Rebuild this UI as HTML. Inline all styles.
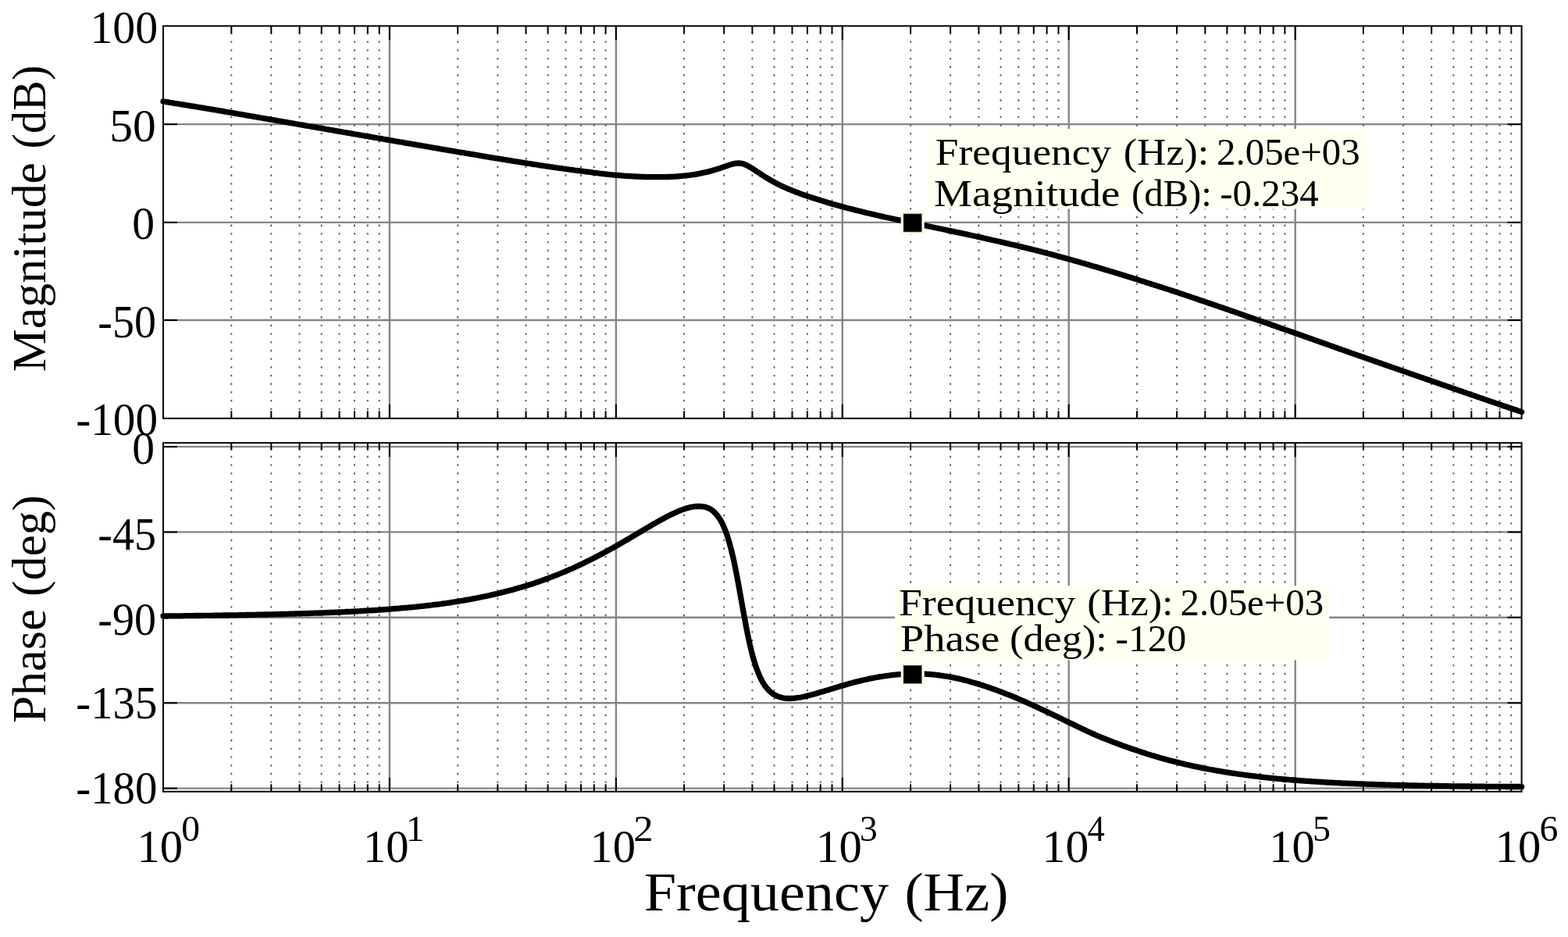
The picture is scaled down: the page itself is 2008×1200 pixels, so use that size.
<!DOCTYPE html>
<html lang="en">
<head>
<meta charset="utf-8">
<title>Bode plot</title>
<style>
html,body{margin:0;padding:0;background:#fff;}
body{width:2008px;height:1200px;overflow:hidden;}
svg{display:block;}
text{font-family:"Liberation Serif", "DejaVu Serif", serif;fill:#000;}
.grid line{stroke:#858585;stroke-width:2.4;}
.minor line{stroke:#585858;stroke-width:1.9;stroke-dasharray:2.3 8.384;}
.ax{stroke:#000;stroke-width:2;fill:none;}
.tk line{stroke:#000;stroke-width:2;}
.curve{stroke:#000;stroke-width:7.3;fill:none;stroke-linecap:round;stroke-linejoin:round;}
.tip{fill:#fffff0;}
.mk{fill:#000;stroke:#8e8e6e;stroke-width:0.6;}
.halo{fill:#fdfde2;}
</style>
</head>
<body>
<svg width="2008" height="1200" viewBox="0 0 2008 1200" role="img" aria-label="Bode plot: magnitude and phase versus frequency">
<rect width="2008" height="1200" fill="#fff"/>

<g id="mag-grid"><g class="grid">
<line x1="498.9" y1="33.3" x2="498.9" y2="535.8"/>
<line x1="788.9" y1="33.3" x2="788.9" y2="535.8"/>
<line x1="1078.8" y1="33.3" x2="1078.8" y2="535.8"/>
<line x1="1368.7" y1="33.3" x2="1368.7" y2="535.8"/>
<line x1="1658.7" y1="33.3" x2="1658.7" y2="535.8"/>
<line x1="209.0" y1="159.1" x2="1948.6" y2="159.1"/>
<line x1="209.0" y1="284.9" x2="1948.6" y2="284.9"/>
<line x1="209.0" y1="410.0" x2="1948.6" y2="410.0"/>
</g>
<g class="minor">
<line x1="296.3" y1="33.3" x2="296.3" y2="535.8" stroke-dashoffset="2.12"/>
<line x1="347.3" y1="33.3" x2="347.3" y2="535.8" stroke-dashoffset="2.12"/>
<line x1="383.6" y1="33.3" x2="383.6" y2="535.8" stroke-dashoffset="2.12"/>
<line x1="411.7" y1="33.3" x2="411.7" y2="535.8" stroke-dashoffset="2.12"/>
<line x1="434.6" y1="33.3" x2="434.6" y2="535.8" stroke-dashoffset="2.12"/>
<line x1="454.0" y1="33.3" x2="454.0" y2="535.8" stroke-dashoffset="2.12"/>
<line x1="470.8" y1="33.3" x2="470.8" y2="535.8" stroke-dashoffset="2.12"/>
<line x1="485.7" y1="33.3" x2="485.7" y2="535.8" stroke-dashoffset="2.12"/>
<line x1="586.2" y1="33.3" x2="586.2" y2="535.8" stroke-dashoffset="2.12"/>
<line x1="637.3" y1="33.3" x2="637.3" y2="535.8" stroke-dashoffset="2.12"/>
<line x1="673.5" y1="33.3" x2="673.5" y2="535.8" stroke-dashoffset="2.12"/>
<line x1="701.6" y1="33.3" x2="701.6" y2="535.8" stroke-dashoffset="2.12"/>
<line x1="724.5" y1="33.3" x2="724.5" y2="535.8" stroke-dashoffset="2.12"/>
<line x1="744.0" y1="33.3" x2="744.0" y2="535.8" stroke-dashoffset="2.12"/>
<line x1="760.8" y1="33.3" x2="760.8" y2="535.8" stroke-dashoffset="2.12"/>
<line x1="775.6" y1="33.3" x2="775.6" y2="535.8" stroke-dashoffset="2.12"/>
<line x1="876.1" y1="33.3" x2="876.1" y2="535.8" stroke-dashoffset="2.12"/>
<line x1="927.2" y1="33.3" x2="927.2" y2="535.8" stroke-dashoffset="2.12"/>
<line x1="963.4" y1="33.3" x2="963.4" y2="535.8" stroke-dashoffset="2.12"/>
<line x1="991.5" y1="33.3" x2="991.5" y2="535.8" stroke-dashoffset="2.12"/>
<line x1="1014.5" y1="33.3" x2="1014.5" y2="535.8" stroke-dashoffset="2.12"/>
<line x1="1033.9" y1="33.3" x2="1033.9" y2="535.8" stroke-dashoffset="2.12"/>
<line x1="1050.7" y1="33.3" x2="1050.7" y2="535.8" stroke-dashoffset="2.12"/>
<line x1="1065.5" y1="33.3" x2="1065.5" y2="535.8" stroke-dashoffset="2.12"/>
<line x1="1166.1" y1="33.3" x2="1166.1" y2="535.8" stroke-dashoffset="2.12"/>
<line x1="1217.1" y1="33.3" x2="1217.1" y2="535.8" stroke-dashoffset="2.12"/>
<line x1="1253.4" y1="33.3" x2="1253.4" y2="535.8" stroke-dashoffset="2.12"/>
<line x1="1281.5" y1="33.3" x2="1281.5" y2="535.8" stroke-dashoffset="2.12"/>
<line x1="1304.4" y1="33.3" x2="1304.4" y2="535.8" stroke-dashoffset="2.12"/>
<line x1="1323.8" y1="33.3" x2="1323.8" y2="535.8" stroke-dashoffset="2.12"/>
<line x1="1340.6" y1="33.3" x2="1340.6" y2="535.8" stroke-dashoffset="2.12"/>
<line x1="1355.5" y1="33.3" x2="1355.5" y2="535.8" stroke-dashoffset="2.12"/>
<line x1="1456.0" y1="33.3" x2="1456.0" y2="535.8" stroke-dashoffset="2.12"/>
<line x1="1507.1" y1="33.3" x2="1507.1" y2="535.8" stroke-dashoffset="2.12"/>
<line x1="1543.3" y1="33.3" x2="1543.3" y2="535.8" stroke-dashoffset="2.12"/>
<line x1="1571.4" y1="33.3" x2="1571.4" y2="535.8" stroke-dashoffset="2.12"/>
<line x1="1594.3" y1="33.3" x2="1594.3" y2="535.8" stroke-dashoffset="2.12"/>
<line x1="1613.8" y1="33.3" x2="1613.8" y2="535.8" stroke-dashoffset="2.12"/>
<line x1="1630.6" y1="33.3" x2="1630.6" y2="535.8" stroke-dashoffset="2.12"/>
<line x1="1645.4" y1="33.3" x2="1645.4" y2="535.8" stroke-dashoffset="2.12"/>
<line x1="1745.9" y1="33.3" x2="1745.9" y2="535.8" stroke-dashoffset="2.12"/>
<line x1="1797.0" y1="33.3" x2="1797.0" y2="535.8" stroke-dashoffset="2.12"/>
<line x1="1833.2" y1="33.3" x2="1833.2" y2="535.8" stroke-dashoffset="2.12"/>
<line x1="1861.3" y1="33.3" x2="1861.3" y2="535.8" stroke-dashoffset="2.12"/>
<line x1="1884.3" y1="33.3" x2="1884.3" y2="535.8" stroke-dashoffset="2.12"/>
<line x1="1903.7" y1="33.3" x2="1903.7" y2="535.8" stroke-dashoffset="2.12"/>
<line x1="1920.5" y1="33.3" x2="1920.5" y2="535.8" stroke-dashoffset="2.12"/>
<line x1="1935.3" y1="33.3" x2="1935.3" y2="535.8" stroke-dashoffset="2.12"/>
</g></g>
<g id="phase-grid"><g class="grid">
<line x1="498.9" y1="567.2" x2="498.9" y2="1013.8"/>
<line x1="788.9" y1="567.2" x2="788.9" y2="1013.8"/>
<line x1="1078.8" y1="567.2" x2="1078.8" y2="1013.8"/>
<line x1="1368.7" y1="567.2" x2="1368.7" y2="1013.8"/>
<line x1="1658.7" y1="567.2" x2="1658.7" y2="1013.8"/>
<line x1="209.0" y1="572.1" x2="1948.6" y2="572.1"/>
<line x1="209.0" y1="681.4" x2="1948.6" y2="681.4"/>
<line x1="209.0" y1="790.8" x2="1948.6" y2="790.8"/>
<line x1="209.0" y1="900.2" x2="1948.6" y2="900.2"/>
<line x1="209.0" y1="1009.6" x2="1948.6" y2="1009.6"/>
</g>
<g class="minor">
<line x1="296.3" y1="567.2" x2="296.3" y2="1013.8" stroke-dashoffset="4.72"/>
<line x1="347.3" y1="567.2" x2="347.3" y2="1013.8" stroke-dashoffset="4.72"/>
<line x1="383.6" y1="567.2" x2="383.6" y2="1013.8" stroke-dashoffset="4.72"/>
<line x1="411.7" y1="567.2" x2="411.7" y2="1013.8" stroke-dashoffset="4.72"/>
<line x1="434.6" y1="567.2" x2="434.6" y2="1013.8" stroke-dashoffset="4.72"/>
<line x1="454.0" y1="567.2" x2="454.0" y2="1013.8" stroke-dashoffset="4.72"/>
<line x1="470.8" y1="567.2" x2="470.8" y2="1013.8" stroke-dashoffset="4.72"/>
<line x1="485.7" y1="567.2" x2="485.7" y2="1013.8" stroke-dashoffset="4.72"/>
<line x1="586.2" y1="567.2" x2="586.2" y2="1013.8" stroke-dashoffset="4.72"/>
<line x1="637.3" y1="567.2" x2="637.3" y2="1013.8" stroke-dashoffset="4.72"/>
<line x1="673.5" y1="567.2" x2="673.5" y2="1013.8" stroke-dashoffset="4.72"/>
<line x1="701.6" y1="567.2" x2="701.6" y2="1013.8" stroke-dashoffset="4.72"/>
<line x1="724.5" y1="567.2" x2="724.5" y2="1013.8" stroke-dashoffset="4.72"/>
<line x1="744.0" y1="567.2" x2="744.0" y2="1013.8" stroke-dashoffset="4.72"/>
<line x1="760.8" y1="567.2" x2="760.8" y2="1013.8" stroke-dashoffset="4.72"/>
<line x1="775.6" y1="567.2" x2="775.6" y2="1013.8" stroke-dashoffset="4.72"/>
<line x1="876.1" y1="567.2" x2="876.1" y2="1013.8" stroke-dashoffset="4.72"/>
<line x1="927.2" y1="567.2" x2="927.2" y2="1013.8" stroke-dashoffset="4.72"/>
<line x1="963.4" y1="567.2" x2="963.4" y2="1013.8" stroke-dashoffset="4.72"/>
<line x1="991.5" y1="567.2" x2="991.5" y2="1013.8" stroke-dashoffset="4.72"/>
<line x1="1014.5" y1="567.2" x2="1014.5" y2="1013.8" stroke-dashoffset="4.72"/>
<line x1="1033.9" y1="567.2" x2="1033.9" y2="1013.8" stroke-dashoffset="4.72"/>
<line x1="1050.7" y1="567.2" x2="1050.7" y2="1013.8" stroke-dashoffset="4.72"/>
<line x1="1065.5" y1="567.2" x2="1065.5" y2="1013.8" stroke-dashoffset="4.72"/>
<line x1="1166.1" y1="567.2" x2="1166.1" y2="1013.8" stroke-dashoffset="4.72"/>
<line x1="1217.1" y1="567.2" x2="1217.1" y2="1013.8" stroke-dashoffset="4.72"/>
<line x1="1253.4" y1="567.2" x2="1253.4" y2="1013.8" stroke-dashoffset="4.72"/>
<line x1="1281.5" y1="567.2" x2="1281.5" y2="1013.8" stroke-dashoffset="4.72"/>
<line x1="1304.4" y1="567.2" x2="1304.4" y2="1013.8" stroke-dashoffset="4.72"/>
<line x1="1323.8" y1="567.2" x2="1323.8" y2="1013.8" stroke-dashoffset="4.72"/>
<line x1="1340.6" y1="567.2" x2="1340.6" y2="1013.8" stroke-dashoffset="4.72"/>
<line x1="1355.5" y1="567.2" x2="1355.5" y2="1013.8" stroke-dashoffset="4.72"/>
<line x1="1456.0" y1="567.2" x2="1456.0" y2="1013.8" stroke-dashoffset="4.72"/>
<line x1="1507.1" y1="567.2" x2="1507.1" y2="1013.8" stroke-dashoffset="4.72"/>
<line x1="1543.3" y1="567.2" x2="1543.3" y2="1013.8" stroke-dashoffset="4.72"/>
<line x1="1571.4" y1="567.2" x2="1571.4" y2="1013.8" stroke-dashoffset="4.72"/>
<line x1="1594.3" y1="567.2" x2="1594.3" y2="1013.8" stroke-dashoffset="4.72"/>
<line x1="1613.8" y1="567.2" x2="1613.8" y2="1013.8" stroke-dashoffset="4.72"/>
<line x1="1630.6" y1="567.2" x2="1630.6" y2="1013.8" stroke-dashoffset="4.72"/>
<line x1="1645.4" y1="567.2" x2="1645.4" y2="1013.8" stroke-dashoffset="4.72"/>
<line x1="1745.9" y1="567.2" x2="1745.9" y2="1013.8" stroke-dashoffset="4.72"/>
<line x1="1797.0" y1="567.2" x2="1797.0" y2="1013.8" stroke-dashoffset="4.72"/>
<line x1="1833.2" y1="567.2" x2="1833.2" y2="1013.8" stroke-dashoffset="4.72"/>
<line x1="1861.3" y1="567.2" x2="1861.3" y2="1013.8" stroke-dashoffset="4.72"/>
<line x1="1884.3" y1="567.2" x2="1884.3" y2="1013.8" stroke-dashoffset="4.72"/>
<line x1="1903.7" y1="567.2" x2="1903.7" y2="1013.8" stroke-dashoffset="4.72"/>
<line x1="1920.5" y1="567.2" x2="1920.5" y2="1013.8" stroke-dashoffset="4.72"/>
<line x1="1935.3" y1="567.2" x2="1935.3" y2="1013.8" stroke-dashoffset="4.72"/>
</g></g>
<rect class="tip" x="1187.3" y="165" width="564.5" height="102.6"/>
<rect class="tip" x="1145.9" y="750.0" width="556.4" height="95.4"/>
<g id="mag-frame"><rect class="ax" x="209.0" y="33.3" width="1739.6" height="502.5"/>
<g class="tk">
<line x1="296.3" y1="33.3" x2="296.3" y2="42.8"/>
<line x1="296.3" y1="535.8" x2="296.3" y2="526.3"/>
<line x1="347.3" y1="33.3" x2="347.3" y2="42.8"/>
<line x1="347.3" y1="535.8" x2="347.3" y2="526.3"/>
<line x1="383.6" y1="33.3" x2="383.6" y2="42.8"/>
<line x1="383.6" y1="535.8" x2="383.6" y2="526.3"/>
<line x1="411.7" y1="33.3" x2="411.7" y2="42.8"/>
<line x1="411.7" y1="535.8" x2="411.7" y2="526.3"/>
<line x1="434.6" y1="33.3" x2="434.6" y2="42.8"/>
<line x1="434.6" y1="535.8" x2="434.6" y2="526.3"/>
<line x1="454.0" y1="33.3" x2="454.0" y2="42.8"/>
<line x1="454.0" y1="535.8" x2="454.0" y2="526.3"/>
<line x1="470.8" y1="33.3" x2="470.8" y2="42.8"/>
<line x1="470.8" y1="535.8" x2="470.8" y2="526.3"/>
<line x1="485.7" y1="33.3" x2="485.7" y2="42.8"/>
<line x1="485.7" y1="535.8" x2="485.7" y2="526.3"/>
<line x1="498.9" y1="33.3" x2="498.9" y2="51.3"/>
<line x1="498.9" y1="535.8" x2="498.9" y2="517.8"/>
<line x1="586.2" y1="33.3" x2="586.2" y2="42.8"/>
<line x1="586.2" y1="535.8" x2="586.2" y2="526.3"/>
<line x1="637.3" y1="33.3" x2="637.3" y2="42.8"/>
<line x1="637.3" y1="535.8" x2="637.3" y2="526.3"/>
<line x1="673.5" y1="33.3" x2="673.5" y2="42.8"/>
<line x1="673.5" y1="535.8" x2="673.5" y2="526.3"/>
<line x1="701.6" y1="33.3" x2="701.6" y2="42.8"/>
<line x1="701.6" y1="535.8" x2="701.6" y2="526.3"/>
<line x1="724.5" y1="33.3" x2="724.5" y2="42.8"/>
<line x1="724.5" y1="535.8" x2="724.5" y2="526.3"/>
<line x1="744.0" y1="33.3" x2="744.0" y2="42.8"/>
<line x1="744.0" y1="535.8" x2="744.0" y2="526.3"/>
<line x1="760.8" y1="33.3" x2="760.8" y2="42.8"/>
<line x1="760.8" y1="535.8" x2="760.8" y2="526.3"/>
<line x1="775.6" y1="33.3" x2="775.6" y2="42.8"/>
<line x1="775.6" y1="535.8" x2="775.6" y2="526.3"/>
<line x1="788.9" y1="33.3" x2="788.9" y2="51.3"/>
<line x1="788.9" y1="535.8" x2="788.9" y2="517.8"/>
<line x1="876.1" y1="33.3" x2="876.1" y2="42.8"/>
<line x1="876.1" y1="535.8" x2="876.1" y2="526.3"/>
<line x1="927.2" y1="33.3" x2="927.2" y2="42.8"/>
<line x1="927.2" y1="535.8" x2="927.2" y2="526.3"/>
<line x1="963.4" y1="33.3" x2="963.4" y2="42.8"/>
<line x1="963.4" y1="535.8" x2="963.4" y2="526.3"/>
<line x1="991.5" y1="33.3" x2="991.5" y2="42.8"/>
<line x1="991.5" y1="535.8" x2="991.5" y2="526.3"/>
<line x1="1014.5" y1="33.3" x2="1014.5" y2="42.8"/>
<line x1="1014.5" y1="535.8" x2="1014.5" y2="526.3"/>
<line x1="1033.9" y1="33.3" x2="1033.9" y2="42.8"/>
<line x1="1033.9" y1="535.8" x2="1033.9" y2="526.3"/>
<line x1="1050.7" y1="33.3" x2="1050.7" y2="42.8"/>
<line x1="1050.7" y1="535.8" x2="1050.7" y2="526.3"/>
<line x1="1065.5" y1="33.3" x2="1065.5" y2="42.8"/>
<line x1="1065.5" y1="535.8" x2="1065.5" y2="526.3"/>
<line x1="1078.8" y1="33.3" x2="1078.8" y2="51.3"/>
<line x1="1078.8" y1="535.8" x2="1078.8" y2="517.8"/>
<line x1="1166.1" y1="33.3" x2="1166.1" y2="42.8"/>
<line x1="1166.1" y1="535.8" x2="1166.1" y2="526.3"/>
<line x1="1217.1" y1="33.3" x2="1217.1" y2="42.8"/>
<line x1="1217.1" y1="535.8" x2="1217.1" y2="526.3"/>
<line x1="1253.4" y1="33.3" x2="1253.4" y2="42.8"/>
<line x1="1253.4" y1="535.8" x2="1253.4" y2="526.3"/>
<line x1="1281.5" y1="33.3" x2="1281.5" y2="42.8"/>
<line x1="1281.5" y1="535.8" x2="1281.5" y2="526.3"/>
<line x1="1304.4" y1="33.3" x2="1304.4" y2="42.8"/>
<line x1="1304.4" y1="535.8" x2="1304.4" y2="526.3"/>
<line x1="1323.8" y1="33.3" x2="1323.8" y2="42.8"/>
<line x1="1323.8" y1="535.8" x2="1323.8" y2="526.3"/>
<line x1="1340.6" y1="33.3" x2="1340.6" y2="42.8"/>
<line x1="1340.6" y1="535.8" x2="1340.6" y2="526.3"/>
<line x1="1355.5" y1="33.3" x2="1355.5" y2="42.8"/>
<line x1="1355.5" y1="535.8" x2="1355.5" y2="526.3"/>
<line x1="1368.7" y1="33.3" x2="1368.7" y2="51.3"/>
<line x1="1368.7" y1="535.8" x2="1368.7" y2="517.8"/>
<line x1="1456.0" y1="33.3" x2="1456.0" y2="42.8"/>
<line x1="1456.0" y1="535.8" x2="1456.0" y2="526.3"/>
<line x1="1507.1" y1="33.3" x2="1507.1" y2="42.8"/>
<line x1="1507.1" y1="535.8" x2="1507.1" y2="526.3"/>
<line x1="1543.3" y1="33.3" x2="1543.3" y2="42.8"/>
<line x1="1543.3" y1="535.8" x2="1543.3" y2="526.3"/>
<line x1="1571.4" y1="33.3" x2="1571.4" y2="42.8"/>
<line x1="1571.4" y1="535.8" x2="1571.4" y2="526.3"/>
<line x1="1594.3" y1="33.3" x2="1594.3" y2="42.8"/>
<line x1="1594.3" y1="535.8" x2="1594.3" y2="526.3"/>
<line x1="1613.8" y1="33.3" x2="1613.8" y2="42.8"/>
<line x1="1613.8" y1="535.8" x2="1613.8" y2="526.3"/>
<line x1="1630.6" y1="33.3" x2="1630.6" y2="42.8"/>
<line x1="1630.6" y1="535.8" x2="1630.6" y2="526.3"/>
<line x1="1645.4" y1="33.3" x2="1645.4" y2="42.8"/>
<line x1="1645.4" y1="535.8" x2="1645.4" y2="526.3"/>
<line x1="1658.7" y1="33.3" x2="1658.7" y2="51.3"/>
<line x1="1658.7" y1="535.8" x2="1658.7" y2="517.8"/>
<line x1="1745.9" y1="33.3" x2="1745.9" y2="42.8"/>
<line x1="1745.9" y1="535.8" x2="1745.9" y2="526.3"/>
<line x1="1797.0" y1="33.3" x2="1797.0" y2="42.8"/>
<line x1="1797.0" y1="535.8" x2="1797.0" y2="526.3"/>
<line x1="1833.2" y1="33.3" x2="1833.2" y2="42.8"/>
<line x1="1833.2" y1="535.8" x2="1833.2" y2="526.3"/>
<line x1="1861.3" y1="33.3" x2="1861.3" y2="42.8"/>
<line x1="1861.3" y1="535.8" x2="1861.3" y2="526.3"/>
<line x1="1884.3" y1="33.3" x2="1884.3" y2="42.8"/>
<line x1="1884.3" y1="535.8" x2="1884.3" y2="526.3"/>
<line x1="1903.7" y1="33.3" x2="1903.7" y2="42.8"/>
<line x1="1903.7" y1="535.8" x2="1903.7" y2="526.3"/>
<line x1="1920.5" y1="33.3" x2="1920.5" y2="42.8"/>
<line x1="1920.5" y1="535.8" x2="1920.5" y2="526.3"/>
<line x1="1935.3" y1="33.3" x2="1935.3" y2="42.8"/>
<line x1="1935.3" y1="535.8" x2="1935.3" y2="526.3"/>
<line x1="209.0" y1="159.1" x2="227.0" y2="159.1"/>
<line x1="1948.6" y1="159.1" x2="1930.6" y2="159.1"/>
<line x1="209.0" y1="284.9" x2="227.0" y2="284.9"/>
<line x1="1948.6" y1="284.9" x2="1930.6" y2="284.9"/>
<line x1="209.0" y1="410.0" x2="227.0" y2="410.0"/>
<line x1="1948.6" y1="410.0" x2="1930.6" y2="410.0"/>
</g></g>
<g id="phase-frame"><rect class="ax" x="209.0" y="567.2" width="1739.6" height="446.6"/>
<g class="tk">
<line x1="296.3" y1="567.2" x2="296.3" y2="576.7"/>
<line x1="296.3" y1="1013.8" x2="296.3" y2="1004.3"/>
<line x1="347.3" y1="567.2" x2="347.3" y2="576.7"/>
<line x1="347.3" y1="1013.8" x2="347.3" y2="1004.3"/>
<line x1="383.6" y1="567.2" x2="383.6" y2="576.7"/>
<line x1="383.6" y1="1013.8" x2="383.6" y2="1004.3"/>
<line x1="411.7" y1="567.2" x2="411.7" y2="576.7"/>
<line x1="411.7" y1="1013.8" x2="411.7" y2="1004.3"/>
<line x1="434.6" y1="567.2" x2="434.6" y2="576.7"/>
<line x1="434.6" y1="1013.8" x2="434.6" y2="1004.3"/>
<line x1="454.0" y1="567.2" x2="454.0" y2="576.7"/>
<line x1="454.0" y1="1013.8" x2="454.0" y2="1004.3"/>
<line x1="470.8" y1="567.2" x2="470.8" y2="576.7"/>
<line x1="470.8" y1="1013.8" x2="470.8" y2="1004.3"/>
<line x1="485.7" y1="567.2" x2="485.7" y2="576.7"/>
<line x1="485.7" y1="1013.8" x2="485.7" y2="1004.3"/>
<line x1="498.9" y1="567.2" x2="498.9" y2="585.2"/>
<line x1="498.9" y1="1013.8" x2="498.9" y2="995.8"/>
<line x1="586.2" y1="567.2" x2="586.2" y2="576.7"/>
<line x1="586.2" y1="1013.8" x2="586.2" y2="1004.3"/>
<line x1="637.3" y1="567.2" x2="637.3" y2="576.7"/>
<line x1="637.3" y1="1013.8" x2="637.3" y2="1004.3"/>
<line x1="673.5" y1="567.2" x2="673.5" y2="576.7"/>
<line x1="673.5" y1="1013.8" x2="673.5" y2="1004.3"/>
<line x1="701.6" y1="567.2" x2="701.6" y2="576.7"/>
<line x1="701.6" y1="1013.8" x2="701.6" y2="1004.3"/>
<line x1="724.5" y1="567.2" x2="724.5" y2="576.7"/>
<line x1="724.5" y1="1013.8" x2="724.5" y2="1004.3"/>
<line x1="744.0" y1="567.2" x2="744.0" y2="576.7"/>
<line x1="744.0" y1="1013.8" x2="744.0" y2="1004.3"/>
<line x1="760.8" y1="567.2" x2="760.8" y2="576.7"/>
<line x1="760.8" y1="1013.8" x2="760.8" y2="1004.3"/>
<line x1="775.6" y1="567.2" x2="775.6" y2="576.7"/>
<line x1="775.6" y1="1013.8" x2="775.6" y2="1004.3"/>
<line x1="788.9" y1="567.2" x2="788.9" y2="585.2"/>
<line x1="788.9" y1="1013.8" x2="788.9" y2="995.8"/>
<line x1="876.1" y1="567.2" x2="876.1" y2="576.7"/>
<line x1="876.1" y1="1013.8" x2="876.1" y2="1004.3"/>
<line x1="927.2" y1="567.2" x2="927.2" y2="576.7"/>
<line x1="927.2" y1="1013.8" x2="927.2" y2="1004.3"/>
<line x1="963.4" y1="567.2" x2="963.4" y2="576.7"/>
<line x1="963.4" y1="1013.8" x2="963.4" y2="1004.3"/>
<line x1="991.5" y1="567.2" x2="991.5" y2="576.7"/>
<line x1="991.5" y1="1013.8" x2="991.5" y2="1004.3"/>
<line x1="1014.5" y1="567.2" x2="1014.5" y2="576.7"/>
<line x1="1014.5" y1="1013.8" x2="1014.5" y2="1004.3"/>
<line x1="1033.9" y1="567.2" x2="1033.9" y2="576.7"/>
<line x1="1033.9" y1="1013.8" x2="1033.9" y2="1004.3"/>
<line x1="1050.7" y1="567.2" x2="1050.7" y2="576.7"/>
<line x1="1050.7" y1="1013.8" x2="1050.7" y2="1004.3"/>
<line x1="1065.5" y1="567.2" x2="1065.5" y2="576.7"/>
<line x1="1065.5" y1="1013.8" x2="1065.5" y2="1004.3"/>
<line x1="1078.8" y1="567.2" x2="1078.8" y2="585.2"/>
<line x1="1078.8" y1="1013.8" x2="1078.8" y2="995.8"/>
<line x1="1166.1" y1="567.2" x2="1166.1" y2="576.7"/>
<line x1="1166.1" y1="1013.8" x2="1166.1" y2="1004.3"/>
<line x1="1217.1" y1="567.2" x2="1217.1" y2="576.7"/>
<line x1="1217.1" y1="1013.8" x2="1217.1" y2="1004.3"/>
<line x1="1253.4" y1="567.2" x2="1253.4" y2="576.7"/>
<line x1="1253.4" y1="1013.8" x2="1253.4" y2="1004.3"/>
<line x1="1281.5" y1="567.2" x2="1281.5" y2="576.7"/>
<line x1="1281.5" y1="1013.8" x2="1281.5" y2="1004.3"/>
<line x1="1304.4" y1="567.2" x2="1304.4" y2="576.7"/>
<line x1="1304.4" y1="1013.8" x2="1304.4" y2="1004.3"/>
<line x1="1323.8" y1="567.2" x2="1323.8" y2="576.7"/>
<line x1="1323.8" y1="1013.8" x2="1323.8" y2="1004.3"/>
<line x1="1340.6" y1="567.2" x2="1340.6" y2="576.7"/>
<line x1="1340.6" y1="1013.8" x2="1340.6" y2="1004.3"/>
<line x1="1355.5" y1="567.2" x2="1355.5" y2="576.7"/>
<line x1="1355.5" y1="1013.8" x2="1355.5" y2="1004.3"/>
<line x1="1368.7" y1="567.2" x2="1368.7" y2="585.2"/>
<line x1="1368.7" y1="1013.8" x2="1368.7" y2="995.8"/>
<line x1="1456.0" y1="567.2" x2="1456.0" y2="576.7"/>
<line x1="1456.0" y1="1013.8" x2="1456.0" y2="1004.3"/>
<line x1="1507.1" y1="567.2" x2="1507.1" y2="576.7"/>
<line x1="1507.1" y1="1013.8" x2="1507.1" y2="1004.3"/>
<line x1="1543.3" y1="567.2" x2="1543.3" y2="576.7"/>
<line x1="1543.3" y1="1013.8" x2="1543.3" y2="1004.3"/>
<line x1="1571.4" y1="567.2" x2="1571.4" y2="576.7"/>
<line x1="1571.4" y1="1013.8" x2="1571.4" y2="1004.3"/>
<line x1="1594.3" y1="567.2" x2="1594.3" y2="576.7"/>
<line x1="1594.3" y1="1013.8" x2="1594.3" y2="1004.3"/>
<line x1="1613.8" y1="567.2" x2="1613.8" y2="576.7"/>
<line x1="1613.8" y1="1013.8" x2="1613.8" y2="1004.3"/>
<line x1="1630.6" y1="567.2" x2="1630.6" y2="576.7"/>
<line x1="1630.6" y1="1013.8" x2="1630.6" y2="1004.3"/>
<line x1="1645.4" y1="567.2" x2="1645.4" y2="576.7"/>
<line x1="1645.4" y1="1013.8" x2="1645.4" y2="1004.3"/>
<line x1="1658.7" y1="567.2" x2="1658.7" y2="585.2"/>
<line x1="1658.7" y1="1013.8" x2="1658.7" y2="995.8"/>
<line x1="1745.9" y1="567.2" x2="1745.9" y2="576.7"/>
<line x1="1745.9" y1="1013.8" x2="1745.9" y2="1004.3"/>
<line x1="1797.0" y1="567.2" x2="1797.0" y2="576.7"/>
<line x1="1797.0" y1="1013.8" x2="1797.0" y2="1004.3"/>
<line x1="1833.2" y1="567.2" x2="1833.2" y2="576.7"/>
<line x1="1833.2" y1="1013.8" x2="1833.2" y2="1004.3"/>
<line x1="1861.3" y1="567.2" x2="1861.3" y2="576.7"/>
<line x1="1861.3" y1="1013.8" x2="1861.3" y2="1004.3"/>
<line x1="1884.3" y1="567.2" x2="1884.3" y2="576.7"/>
<line x1="1884.3" y1="1013.8" x2="1884.3" y2="1004.3"/>
<line x1="1903.7" y1="567.2" x2="1903.7" y2="576.7"/>
<line x1="1903.7" y1="1013.8" x2="1903.7" y2="1004.3"/>
<line x1="1920.5" y1="567.2" x2="1920.5" y2="576.7"/>
<line x1="1920.5" y1="1013.8" x2="1920.5" y2="1004.3"/>
<line x1="1935.3" y1="567.2" x2="1935.3" y2="576.7"/>
<line x1="1935.3" y1="1013.8" x2="1935.3" y2="1004.3"/>
<line x1="209.0" y1="572.1" x2="227.0" y2="572.1"/>
<line x1="1948.6" y1="572.1" x2="1930.6" y2="572.1"/>
<line x1="209.0" y1="681.4" x2="227.0" y2="681.4"/>
<line x1="1948.6" y1="681.4" x2="1930.6" y2="681.4"/>
<line x1="209.0" y1="790.8" x2="227.0" y2="790.8"/>
<line x1="1948.6" y1="790.8" x2="1930.6" y2="790.8"/>
<line x1="209.0" y1="900.2" x2="227.0" y2="900.2"/>
<line x1="1948.6" y1="900.2" x2="1930.6" y2="900.2"/>
<line x1="209.0" y1="1009.6" x2="227.0" y2="1009.6"/>
<line x1="1948.6" y1="1009.6" x2="1930.6" y2="1009.6"/>
</g></g>
<path class="curve" d="M209.0 129.9 L211.4 130.3 L213.8 130.7 L216.2 131.1 L218.7 131.5 L221.1 131.9 L223.5 132.3 L225.9 132.6 L228.3 133.0 L230.7 133.4 L233.2 133.8 L235.6 134.2 L238.0 134.6 L240.4 135.0 L242.8 135.4 L245.2 135.8 L247.7 136.2 L250.1 136.6 L252.5 137.0 L254.9 137.4 L257.3 137.8 L259.7 138.2 L262.2 138.6 L264.6 139.0 L267.0 139.4 L269.4 139.8 L271.8 140.2 L274.2 140.6 L276.7 141.0 L279.1 141.4 L281.5 141.8 L283.9 142.2 L286.3 142.6 L288.7 143.1 L291.1 143.5 L293.6 143.9 L296.0 144.3 L298.4 144.7 L300.8 145.1 L303.2 145.6 L305.6 146.0 L308.1 146.4 L310.5 146.8 L312.9 147.2 L315.3 147.7 L317.7 148.1 L320.1 148.5 L322.6 148.9 L325.0 149.3 L327.4 149.7 L329.8 150.2 L332.2 150.6 L334.6 151.0 L337.1 151.4 L339.5 151.8 L341.9 152.3 L344.3 152.7 L346.7 153.1 L349.1 153.5 L351.6 153.9 L354.0 154.3 L356.4 154.8 L358.8 155.2 L361.2 155.6 L363.6 156.0 L366.0 156.4 L368.5 156.9 L370.9 157.3 L373.3 157.7 L375.7 158.1 L378.1 158.5 L380.5 159.0 L383.0 159.4 L385.4 159.8 L387.8 160.2 L390.2 160.6 L392.6 161.1 L395.0 161.5 L397.5 161.9 L399.9 162.3 L402.3 162.7 L404.7 163.2 L407.1 163.6 L409.5 164.0 L412.0 164.4 L414.4 164.8 L416.8 165.3 L419.2 165.7 L421.6 166.1 L424.0 166.5 L426.4 166.9 L428.9 167.4 L431.3 167.8 L433.7 168.2 L436.1 168.6 L438.5 169.0 L440.9 169.5 L443.4 169.9 L445.8 170.3 L448.2 170.7 L450.6 171.1 L453.0 171.6 L455.4 172.0 L457.9 172.4 L460.3 172.8 L462.7 173.2 L465.1 173.7 L467.5 174.1 L469.9 174.5 L472.4 174.9 L474.8 175.3 L477.2 175.7 L479.6 176.2 L482.0 176.6 L484.4 177.0 L486.9 177.4 L489.3 177.8 L491.7 178.3 L494.1 178.7 L496.5 179.1 L498.9 179.5 L501.3 179.9 L503.8 180.3 L506.2 180.8 L508.6 181.2 L511.0 181.6 L513.4 182.0 L515.8 182.4 L518.3 182.9 L520.7 183.3 L523.1 183.7 L525.5 184.1 L527.9 184.5 L530.3 184.9 L532.8 185.4 L535.2 185.8 L537.6 186.2 L540.0 186.6 L542.4 187.0 L544.8 187.4 L547.3 187.8 L549.7 188.3 L552.1 188.7 L554.5 189.1 L556.9 189.5 L559.3 189.9 L561.8 190.3 L564.2 190.8 L566.6 191.2 L569.0 191.6 L571.4 192.0 L573.8 192.4 L576.2 192.8 L578.7 193.2 L581.1 193.6 L583.5 194.0 L585.9 194.5 L588.3 194.9 L590.7 195.3 L593.2 195.7 L595.6 196.1 L598.0 196.5 L600.4 196.9 L602.8 197.3 L605.2 197.7 L607.7 198.1 L610.1 198.5 L612.5 198.9 L614.9 199.3 L617.3 199.8 L619.7 200.2 L622.2 200.6 L624.6 201.0 L627.0 201.4 L629.4 201.8 L631.8 202.2 L634.2 202.6 L636.7 202.9 L639.1 203.3 L641.5 203.7 L643.9 204.1 L646.3 204.5 L648.7 204.9 L651.1 205.3 L653.6 205.7 L656.0 206.1 L658.4 206.5 L660.8 206.9 L663.2 207.2 L665.6 207.6 L668.1 208.0 L670.5 208.4 L672.9 208.8 L675.3 209.2 L677.7 209.5 L680.1 209.9 L682.6 210.3 L685.0 210.7 L687.4 211.0 L689.8 211.4 L692.2 211.8 L694.6 212.1 L697.1 212.5 L699.5 212.8 L701.9 213.2 L704.3 213.6 L706.7 213.9 L709.1 214.3 L711.6 214.6 L714.0 215.0 L716.4 215.3 L718.8 215.6 L721.2 216.0 L723.6 216.3 L726.0 216.7 L728.5 217.0 L730.9 217.3 L733.3 217.6 L735.7 218.0 L738.1 218.3 L740.5 218.6 L743.0 218.9 L745.4 219.2 L747.8 219.5 L750.2 219.8 L752.6 220.1 L755.0 220.4 L757.5 220.7 L759.9 221.1 L762.3 221.4 L764.7 221.7 L767.1 222.0 L769.5 222.3 L772.0 222.5 L774.4 222.8 L776.8 223.1 L779.2 223.4 L781.6 223.6 L784.0 223.9 L786.5 224.1 L788.9 224.3 L791.3 224.5 L793.7 224.7 L796.1 224.9 L798.5 225.1 L800.9 225.3 L803.4 225.4 L805.8 225.6 L808.2 225.7 L810.6 225.9 L813.0 226.0 L815.4 226.1 L817.9 226.2 L820.3 226.3 L822.7 226.4 L825.1 226.5 L827.5 226.6 L829.9 226.6 L832.4 226.7 L834.8 226.7 L837.2 226.7 L839.6 226.7 L842.0 226.7 L844.4 226.7 L846.9 226.7 L849.3 226.7 L851.7 226.6 L854.1 226.6 L856.5 226.5 L858.9 226.4 L861.4 226.3 L863.8 226.1 L866.2 226.0 L868.6 225.8 L871.0 225.6 L873.4 225.4 L875.8 225.2 L878.3 225.0 L880.7 224.7 L883.1 224.4 L885.5 224.0 L887.9 223.7 L890.3 223.3 L892.8 222.8 L895.2 222.4 L897.6 221.9 L900.0 221.4 L902.4 220.9 L904.8 220.3 L907.3 219.8 L909.7 219.1 L912.1 218.5 L914.5 217.8 L916.9 217.1 L919.3 216.3 L921.8 215.5 L924.2 214.7 L926.6 213.8 L929.0 213.0 L931.4 212.2 L933.8 211.4 L936.2 210.6 L938.7 210.0 L941.1 209.4 L943.5 209.1 L945.9 208.9 L948.3 209.1 L950.7 209.5 L953.2 210.3 L955.6 211.3 L958.0 212.6 L960.4 214.0 L962.8 215.4 L965.2 217.0 L967.7 218.6 L970.1 220.2 L972.5 221.8 L974.9 223.4 L977.3 225.0 L979.7 226.5 L982.2 228.0 L984.6 229.4 L987.0 230.9 L989.4 232.2 L991.8 233.5 L994.2 234.8 L996.7 236.1 L999.1 237.2 L1001.5 238.4 L1003.9 239.5 L1006.3 240.6 L1008.7 241.6 L1011.1 242.7 L1013.6 243.7 L1016.0 244.6 L1018.4 245.6 L1020.8 246.5 L1023.2 247.4 L1025.6 248.3 L1028.1 249.2 L1030.5 250.0 L1032.9 250.8 L1035.3 251.6 L1037.7 252.4 L1040.1 253.2 L1042.6 254.0 L1045.0 254.8 L1047.4 255.5 L1049.8 256.3 L1052.2 257.1 L1054.6 257.8 L1057.1 258.5 L1059.5 259.3 L1061.9 260.0 L1064.3 260.7 L1066.7 261.4 L1069.1 262.1 L1071.6 262.8 L1074.0 263.4 L1076.4 264.1 L1078.8 264.8 L1081.2 265.4 L1083.6 266.0 L1086.0 266.7 L1088.5 267.3 L1090.9 267.9 L1093.3 268.5 L1095.7 269.1 L1098.1 269.7 L1100.5 270.3 L1103.0 270.9 L1105.4 271.5 L1107.8 272.1 L1110.2 272.7 L1112.6 273.2 L1115.0 273.8 L1117.5 274.4 L1119.9 274.9 L1122.3 275.5 L1124.7 276.0 L1127.1 276.6 L1129.5 277.1 L1132.0 277.7 L1134.4 278.2 L1136.8 278.8 L1139.2 279.3 L1141.6 279.8 L1144.0 280.3 L1146.5 280.9 L1148.9 281.4 L1151.3 281.9 L1153.7 282.4 L1156.1 283.0 L1158.5 283.5 L1160.9 284.0 L1163.4 284.5 L1165.8 285.0 L1168.2 285.5 L1170.6 286.0 L1173.0 286.5 L1175.4 287.0 L1177.9 287.5 L1180.3 288.0 L1182.7 288.5 L1185.1 289.0 L1187.5 289.5 L1189.9 290.0 L1192.4 290.5 L1194.8 291.0 L1197.2 291.5 L1199.6 292.0 L1202.0 292.5 L1204.4 293.0 L1206.9 293.5 L1209.3 294.0 L1211.7 294.5 L1214.1 295.1 L1216.5 295.6 L1218.9 296.1 L1221.4 296.6 L1223.8 297.1 L1226.2 297.6 L1228.6 298.1 L1231.0 298.6 L1233.4 299.1 L1235.8 299.7 L1238.3 300.2 L1240.7 300.7 L1243.1 301.2 L1245.5 301.8 L1247.9 302.3 L1250.3 302.8 L1252.8 303.4 L1255.2 303.9 L1257.6 304.4 L1260.0 305.0 L1262.4 305.5 L1264.8 306.1 L1267.3 306.6 L1269.7 307.2 L1272.1 307.7 L1274.5 308.2 L1276.9 308.8 L1279.3 309.3 L1281.8 309.9 L1284.2 310.4 L1286.6 311.0 L1289.0 311.6 L1291.4 312.1 L1293.8 312.7 L1296.2 313.2 L1298.7 313.8 L1301.1 314.4 L1303.5 315.0 L1305.9 315.5 L1308.3 316.1 L1310.7 316.7 L1313.2 317.3 L1315.6 317.9 L1318.0 318.5 L1320.4 319.1 L1322.8 319.7 L1325.2 320.3 L1327.7 320.9 L1330.1 321.5 L1332.5 322.1 L1334.9 322.8 L1337.3 323.4 L1339.7 324.0 L1342.2 324.7 L1344.6 325.3 L1347.0 325.9 L1349.4 326.6 L1351.8 327.2 L1354.2 327.9 L1356.7 328.5 L1359.1 329.2 L1361.5 329.9 L1363.9 330.5 L1366.3 331.2 L1368.7 331.9 L1371.1 332.5 L1373.6 333.2 L1376.0 333.9 L1378.4 334.6 L1380.8 335.3 L1383.2 336.0 L1385.6 336.7 L1388.1 337.3 L1390.5 338.0 L1392.9 338.7 L1395.3 339.5 L1397.7 340.2 L1400.1 340.9 L1402.6 341.6 L1405.0 342.3 L1407.4 343.0 L1409.8 343.7 L1412.2 344.4 L1414.6 345.2 L1417.1 345.9 L1419.5 346.6 L1421.9 347.4 L1424.3 348.1 L1426.7 348.8 L1429.1 349.6 L1431.6 350.3 L1434.0 351.1 L1436.4 351.8 L1438.8 352.5 L1441.2 353.3 L1443.6 354.1 L1446.0 354.8 L1448.5 355.6 L1450.9 356.3 L1453.3 357.1 L1455.7 357.8 L1458.1 358.6 L1460.5 359.4 L1463.0 360.1 L1465.4 360.9 L1467.8 361.7 L1470.2 362.4 L1472.6 363.2 L1475.0 364.0 L1477.5 364.7 L1479.9 365.5 L1482.3 366.3 L1484.7 367.0 L1487.1 367.8 L1489.5 368.6 L1492.0 369.4 L1494.4 370.1 L1496.8 370.9 L1499.2 371.7 L1501.6 372.5 L1504.0 373.3 L1506.5 374.1 L1508.9 374.9 L1511.3 375.7 L1513.7 376.5 L1516.1 377.3 L1518.5 378.1 L1520.9 378.9 L1523.4 379.8 L1525.8 380.6 L1528.2 381.4 L1530.6 382.2 L1533.0 383.0 L1535.4 383.9 L1537.9 384.7 L1540.3 385.5 L1542.7 386.3 L1545.1 387.2 L1547.5 388.0 L1549.9 388.8 L1552.4 389.6 L1554.8 390.5 L1557.2 391.3 L1559.6 392.1 L1562.0 393.0 L1564.4 393.8 L1566.9 394.6 L1569.3 395.5 L1571.7 396.3 L1574.1 397.1 L1576.5 398.0 L1578.9 398.8 L1581.4 399.6 L1583.8 400.5 L1586.2 401.3 L1588.6 402.2 L1591.0 403.0 L1593.4 403.8 L1595.8 404.7 L1598.3 405.5 L1600.7 406.4 L1603.1 407.2 L1605.5 408.0 L1607.9 408.9 L1610.3 409.7 L1612.8 410.6 L1615.2 411.4 L1617.6 412.3 L1620.0 413.1 L1622.4 413.9 L1624.8 414.8 L1627.3 415.6 L1629.7 416.5 L1632.1 417.3 L1634.5 418.2 L1636.9 419.0 L1639.3 419.9 L1641.8 420.7 L1644.2 421.6 L1646.6 422.4 L1649.0 423.3 L1651.4 424.1 L1653.8 424.9 L1656.3 425.8 L1658.7 426.6 L1661.1 427.5 L1663.5 428.3 L1665.9 429.2 L1668.3 430.0 L1670.7 430.9 L1673.2 431.7 L1675.6 432.6 L1678.0 433.5 L1680.4 434.3 L1682.8 435.2 L1685.2 436.0 L1687.7 436.9 L1690.1 437.8 L1692.5 438.6 L1694.9 439.5 L1697.3 440.3 L1699.7 441.2 L1702.2 442.1 L1704.6 442.9 L1707.0 443.8 L1709.4 444.6 L1711.8 445.5 L1714.2 446.4 L1716.7 447.2 L1719.1 448.1 L1721.5 448.9 L1723.9 449.8 L1726.3 450.6 L1728.7 451.5 L1731.2 452.4 L1733.6 453.2 L1736.0 454.1 L1738.4 454.9 L1740.8 455.7 L1743.2 456.6 L1745.6 457.4 L1748.1 458.3 L1750.5 459.1 L1752.9 460.0 L1755.3 460.8 L1757.7 461.6 L1760.1 462.5 L1762.6 463.3 L1765.0 464.2 L1767.4 465.0 L1769.8 465.8 L1772.2 466.7 L1774.6 467.5 L1777.1 468.4 L1779.5 469.2 L1781.9 470.1 L1784.3 470.9 L1786.7 471.7 L1789.1 472.6 L1791.6 473.4 L1794.0 474.3 L1796.4 475.1 L1798.8 475.9 L1801.2 476.8 L1803.6 477.6 L1806.0 478.5 L1808.5 479.3 L1810.9 480.1 L1813.3 481.0 L1815.7 481.8 L1818.1 482.6 L1820.5 483.5 L1823.0 484.3 L1825.4 485.2 L1827.8 486.0 L1830.2 486.8 L1832.6 487.7 L1835.0 488.5 L1837.5 489.3 L1839.9 490.2 L1842.3 491.0 L1844.7 491.9 L1847.1 492.7 L1849.5 493.5 L1852.0 494.4 L1854.4 495.2 L1856.8 496.0 L1859.2 496.9 L1861.6 497.7 L1864.0 498.5 L1866.5 499.4 L1868.9 500.2 L1871.3 501.0 L1873.7 501.9 L1876.1 502.7 L1878.5 503.6 L1880.9 504.4 L1883.4 505.2 L1885.8 506.1 L1888.2 506.9 L1890.6 507.7 L1893.0 508.6 L1895.4 509.4 L1897.9 510.2 L1900.3 511.1 L1902.7 511.9 L1905.1 512.7 L1907.5 513.6 L1909.9 514.4 L1912.4 515.2 L1914.8 516.1 L1917.2 516.9 L1919.6 517.7 L1922.0 518.5 L1924.4 519.4 L1926.9 520.2 L1929.3 521.0 L1931.7 521.8 L1934.1 522.7 L1936.5 523.5 L1938.9 524.3 L1941.4 525.1 L1943.8 525.9 L1946.2 526.8 L1948.6 527.6"/>
<path class="curve" d="M209.0 789.0 L211.4 789.0 L213.8 789.0 L216.2 788.9 L218.7 788.9 L221.1 788.9 L223.5 788.9 L225.9 788.8 L228.3 788.8 L230.7 788.8 L233.2 788.8 L235.6 788.7 L238.0 788.7 L240.4 788.7 L242.8 788.6 L245.2 788.6 L247.7 788.6 L250.1 788.5 L252.5 788.5 L254.9 788.5 L257.3 788.5 L259.7 788.4 L262.2 788.4 L264.6 788.4 L267.0 788.3 L269.4 788.3 L271.8 788.3 L274.2 788.2 L276.7 788.2 L279.1 788.1 L281.5 788.1 L283.9 788.1 L286.3 788.0 L288.7 788.0 L291.1 788.0 L293.6 787.9 L296.0 787.9 L298.4 787.8 L300.8 787.8 L303.2 787.8 L305.6 787.7 L308.1 787.7 L310.5 787.6 L312.9 787.6 L315.3 787.5 L317.7 787.5 L320.1 787.4 L322.6 787.4 L325.0 787.3 L327.4 787.3 L329.8 787.2 L332.2 787.2 L334.6 787.1 L337.1 787.1 L339.5 787.0 L341.9 787.0 L344.3 786.9 L346.7 786.9 L349.1 786.8 L351.6 786.7 L354.0 786.7 L356.4 786.6 L358.8 786.5 L361.2 786.5 L363.6 786.4 L366.0 786.4 L368.5 786.3 L370.9 786.2 L373.3 786.1 L375.7 786.1 L378.1 786.0 L380.5 785.9 L383.0 785.9 L385.4 785.8 L387.8 785.7 L390.2 785.6 L392.6 785.6 L395.0 785.5 L397.5 785.4 L399.9 785.3 L402.3 785.2 L404.7 785.1 L407.1 785.1 L409.5 785.0 L412.0 784.9 L414.4 784.8 L416.8 784.7 L419.2 784.6 L421.6 784.5 L424.0 784.4 L426.4 784.3 L428.9 784.2 L431.3 784.1 L433.7 784.0 L436.1 783.9 L438.5 783.8 L440.9 783.7 L443.4 783.5 L445.8 783.4 L448.2 783.3 L450.6 783.2 L453.0 783.1 L455.4 782.9 L457.9 782.8 L460.3 782.7 L462.7 782.5 L465.1 782.4 L467.5 782.2 L469.9 782.1 L472.4 781.9 L474.8 781.8 L477.2 781.6 L479.6 781.5 L482.0 781.3 L484.4 781.2 L486.9 781.0 L489.3 780.8 L491.7 780.6 L494.1 780.5 L496.5 780.3 L498.9 780.1 L501.3 779.9 L503.8 779.7 L506.2 779.5 L508.6 779.3 L511.0 779.1 L513.4 778.9 L515.8 778.7 L518.3 778.5 L520.7 778.3 L523.1 778.0 L525.5 777.8 L527.9 777.6 L530.3 777.3 L532.8 777.1 L535.2 776.8 L537.6 776.6 L540.0 776.3 L542.4 776.1 L544.8 775.8 L547.3 775.5 L549.7 775.3 L552.1 775.0 L554.5 774.7 L556.9 774.4 L559.3 774.1 L561.8 773.8 L564.2 773.5 L566.6 773.1 L569.0 772.8 L571.4 772.5 L573.8 772.1 L576.2 771.8 L578.7 771.4 L581.1 771.0 L583.5 770.7 L585.9 770.3 L588.3 769.9 L590.7 769.5 L593.2 769.1 L595.6 768.6 L598.0 768.2 L600.4 767.8 L602.8 767.3 L605.2 766.9 L607.7 766.4 L610.1 766.0 L612.5 765.5 L614.9 765.0 L617.3 764.5 L619.7 764.0 L622.2 763.5 L624.6 763.0 L627.0 762.5 L629.4 761.9 L631.8 761.4 L634.2 760.8 L636.7 760.3 L639.1 759.7 L641.5 759.1 L643.9 758.5 L646.3 757.9 L648.7 757.3 L651.1 756.6 L653.6 756.0 L656.0 755.4 L658.4 754.7 L660.8 754.0 L663.2 753.3 L665.6 752.6 L668.1 751.9 L670.5 751.2 L672.9 750.5 L675.3 749.7 L677.7 748.9 L680.1 748.2 L682.6 747.4 L685.0 746.6 L687.4 745.8 L689.8 745.0 L692.2 744.1 L694.6 743.3 L697.1 742.4 L699.5 741.5 L701.9 740.6 L704.3 739.7 L706.7 738.8 L709.1 737.9 L711.6 736.9 L714.0 736.0 L716.4 735.0 L718.8 734.0 L721.2 733.0 L723.6 732.0 L726.0 730.9 L728.5 729.9 L730.9 728.8 L733.3 727.8 L735.7 726.7 L738.1 725.6 L740.5 724.4 L743.0 723.3 L745.4 722.2 L747.8 721.0 L750.2 719.8 L752.6 718.6 L755.0 717.4 L757.5 716.2 L759.9 715.0 L762.3 713.8 L764.7 712.5 L767.1 711.3 L769.5 710.0 L772.0 708.7 L774.4 707.4 L776.8 706.1 L779.2 704.8 L781.6 703.4 L784.0 702.1 L786.5 700.7 L788.9 699.4 L791.3 698.0 L793.7 696.6 L796.1 695.2 L798.5 693.8 L800.9 692.4 L803.4 691.0 L805.8 689.6 L808.2 688.2 L810.6 686.7 L813.0 685.3 L815.4 683.9 L817.9 682.4 L820.3 681.0 L822.7 679.6 L825.1 678.1 L827.5 676.7 L829.9 675.3 L832.4 673.8 L834.8 672.4 L837.2 671.0 L839.6 669.6 L842.0 668.3 L844.4 666.9 L846.9 665.6 L849.3 664.3 L851.7 663.0 L854.1 661.7 L856.5 660.5 L858.9 659.3 L861.4 658.1 L863.8 657.0 L866.2 655.9 L868.6 654.8 L871.0 653.8 L873.4 652.9 L875.8 652.1 L878.3 651.3 L880.7 650.6 L883.1 649.9 L885.5 649.4 L887.9 649.0 L890.3 648.7 L892.8 648.5 L895.2 648.4 L897.6 648.5 L900.0 648.8 L902.4 649.2 L904.8 649.8 L907.3 650.8 L909.7 652.0 L912.1 653.6 L914.5 655.6 L916.9 658.1 L919.3 661.1 L921.8 664.6 L924.2 668.9 L926.6 673.8 L929.0 679.6 L931.4 686.4 L933.8 694.3 L936.2 703.2 L938.7 713.3 L941.1 724.5 L943.5 736.5 L945.9 749.3 L948.3 762.8 L950.7 776.4 L953.2 789.9 L955.6 802.8 L958.0 814.9 L960.4 826.1 L962.8 836.0 L965.2 844.9 L967.7 852.7 L970.1 859.5 L972.5 865.3 L974.9 870.4 L977.3 874.7 L979.7 878.4 L982.2 881.5 L984.6 884.2 L987.0 886.4 L989.4 888.3 L991.8 889.8 L994.2 891.1 L996.7 892.1 L999.1 892.9 L1001.5 893.5 L1003.9 894.0 L1006.3 894.3 L1008.7 894.4 L1011.1 894.5 L1013.6 894.4 L1016.0 894.3 L1018.4 894.0 L1020.8 893.7 L1023.2 893.4 L1025.6 893.0 L1028.1 892.5 L1030.5 892.0 L1032.9 891.4 L1035.3 890.8 L1037.7 890.2 L1040.1 889.6 L1042.6 888.9 L1045.0 888.2 L1047.4 887.5 L1049.8 886.8 L1052.2 886.1 L1054.6 885.4 L1057.1 884.6 L1059.5 883.9 L1061.9 883.2 L1064.3 882.4 L1066.7 881.7 L1069.1 880.9 L1071.6 880.2 L1074.0 879.5 L1076.4 878.8 L1078.8 878.1 L1081.2 877.4 L1083.6 876.7 L1086.0 876.0 L1088.5 875.3 L1090.9 874.7 L1093.3 874.0 L1095.7 873.4 L1098.1 872.8 L1100.5 872.2 L1103.0 871.6 L1105.4 871.0 L1107.8 870.5 L1110.2 870.0 L1112.6 869.4 L1115.0 868.9 L1117.5 868.5 L1119.9 868.0 L1122.3 867.5 L1124.7 867.1 L1127.1 866.7 L1129.5 866.3 L1132.0 866.0 L1134.4 865.6 L1136.8 865.3 L1139.2 865.0 L1141.6 864.7 L1144.0 864.4 L1146.5 864.2 L1148.9 863.9 L1151.3 863.7 L1153.7 863.6 L1156.1 863.4 L1158.5 863.3 L1160.9 863.1 L1163.4 863.0 L1165.8 863.0 L1168.2 862.9 L1170.6 862.9 L1173.0 862.9 L1175.4 862.9 L1177.9 862.9 L1180.3 863.0 L1182.7 863.1 L1185.1 863.2 L1187.5 863.4 L1189.9 863.5 L1192.4 863.7 L1194.8 863.9 L1197.2 864.2 L1199.6 864.5 L1202.0 864.7 L1204.4 865.1 L1206.9 865.4 L1209.3 865.8 L1211.7 866.1 L1214.1 866.5 L1216.5 867.0 L1218.9 867.4 L1221.4 867.9 L1223.8 868.4 L1226.2 868.9 L1228.6 869.4 L1231.0 870.0 L1233.4 870.6 L1235.8 871.2 L1238.3 871.8 L1240.7 872.5 L1243.1 873.2 L1245.5 873.9 L1247.9 874.6 L1250.3 875.3 L1252.8 876.0 L1255.2 876.8 L1257.6 877.5 L1260.0 878.3 L1262.4 879.1 L1264.8 879.9 L1267.3 880.8 L1269.7 881.6 L1272.1 882.5 L1274.5 883.3 L1276.9 884.2 L1279.3 885.1 L1281.8 886.0 L1284.2 886.9 L1286.6 887.8 L1289.0 888.8 L1291.4 889.7 L1293.8 890.7 L1296.2 891.7 L1298.7 892.7 L1301.1 893.7 L1303.5 894.7 L1305.9 895.8 L1308.3 896.8 L1310.7 897.8 L1313.2 898.9 L1315.6 900.0 L1318.0 901.1 L1320.4 902.2 L1322.8 903.3 L1325.2 904.4 L1327.7 905.5 L1330.1 906.6 L1332.5 907.7 L1334.9 908.9 L1337.3 910.0 L1339.7 911.2 L1342.2 912.3 L1344.6 913.5 L1347.0 914.6 L1349.4 915.8 L1351.8 916.9 L1354.2 918.1 L1356.7 919.3 L1359.1 920.4 L1361.5 921.6 L1363.9 922.7 L1366.3 923.9 L1368.7 925.1 L1371.1 926.2 L1373.6 927.4 L1376.0 928.6 L1378.4 929.7 L1380.8 930.9 L1383.2 932.1 L1385.6 933.2 L1388.1 934.4 L1390.5 935.5 L1392.9 936.7 L1395.3 937.8 L1397.7 938.9 L1400.1 940.0 L1402.6 941.0 L1405.0 942.1 L1407.4 943.1 L1409.8 944.1 L1412.2 945.1 L1414.6 946.1 L1417.1 947.0 L1419.5 948.0 L1421.9 948.9 L1424.3 949.9 L1426.7 950.8 L1429.1 951.7 L1431.6 952.6 L1434.0 953.5 L1436.4 954.4 L1438.8 955.3 L1441.2 956.1 L1443.6 957.0 L1446.0 957.8 L1448.5 958.7 L1450.9 959.5 L1453.3 960.3 L1455.7 961.1 L1458.1 961.9 L1460.5 962.7 L1463.0 963.5 L1465.4 964.3 L1467.8 965.1 L1470.2 965.9 L1472.6 966.6 L1475.0 967.4 L1477.5 968.1 L1479.9 968.8 L1482.3 969.5 L1484.7 970.2 L1487.1 970.9 L1489.5 971.6 L1492.0 972.2 L1494.4 972.9 L1496.8 973.6 L1499.2 974.2 L1501.6 974.8 L1504.0 975.4 L1506.5 976.0 L1508.9 976.6 L1511.3 977.2 L1513.7 977.8 L1516.1 978.4 L1518.5 979.0 L1520.9 979.5 L1523.4 980.0 L1525.8 980.6 L1528.2 981.1 L1530.6 981.6 L1533.0 982.1 L1535.4 982.6 L1537.9 983.1 L1540.3 983.6 L1542.7 984.1 L1545.1 984.6 L1547.5 985.0 L1549.9 985.5 L1552.4 985.9 L1554.8 986.3 L1557.2 986.8 L1559.6 987.2 L1562.0 987.6 L1564.4 988.0 L1566.9 988.4 L1569.3 988.8 L1571.7 989.2 L1574.1 989.6 L1576.5 989.9 L1578.9 990.3 L1581.4 990.7 L1583.8 991.0 L1586.2 991.4 L1588.6 991.7 L1591.0 992.0 L1593.4 992.4 L1595.8 992.7 L1598.3 993.0 L1600.7 993.3 L1603.1 993.6 L1605.5 993.9 L1607.9 994.2 L1610.3 994.5 L1612.8 994.8 L1615.2 995.0 L1617.6 995.3 L1620.0 995.6 L1622.4 995.8 L1624.8 996.1 L1627.3 996.3 L1629.7 996.6 L1632.1 996.8 L1634.5 997.1 L1636.9 997.3 L1639.3 997.5 L1641.8 997.8 L1644.2 998.0 L1646.6 998.2 L1649.0 998.4 L1651.4 998.6 L1653.8 998.8 L1656.3 999.0 L1658.7 999.2 L1661.1 999.4 L1663.5 999.6 L1665.9 999.8 L1668.3 999.9 L1670.7 1000.1 L1673.2 1000.3 L1675.6 1000.4 L1678.0 1000.6 L1680.4 1000.8 L1682.8 1000.9 L1685.2 1001.1 L1687.7 1001.2 L1690.1 1001.4 L1692.5 1001.5 L1694.9 1001.7 L1697.3 1001.8 L1699.7 1002.0 L1702.2 1002.1 L1704.6 1002.2 L1707.0 1002.3 L1709.4 1002.5 L1711.8 1002.6 L1714.2 1002.7 L1716.7 1002.8 L1719.1 1003.0 L1721.5 1003.1 L1723.9 1003.2 L1726.3 1003.3 L1728.7 1003.4 L1731.2 1003.5 L1733.6 1003.6 L1736.0 1003.7 L1738.4 1003.8 L1740.8 1003.9 L1743.2 1004.0 L1745.6 1004.1 L1748.1 1004.2 L1750.5 1004.3 L1752.9 1004.4 L1755.3 1004.4 L1757.7 1004.5 L1760.1 1004.6 L1762.6 1004.7 L1765.0 1004.8 L1767.4 1004.8 L1769.8 1004.9 L1772.2 1005.0 L1774.6 1005.1 L1777.1 1005.1 L1779.5 1005.2 L1781.9 1005.3 L1784.3 1005.3 L1786.7 1005.4 L1789.1 1005.5 L1791.6 1005.5 L1794.0 1005.6 L1796.4 1005.6 L1798.8 1005.7 L1801.2 1005.7 L1803.6 1005.8 L1806.0 1005.9 L1808.5 1005.9 L1810.9 1006.0 L1813.3 1006.0 L1815.7 1006.1 L1818.1 1006.1 L1820.5 1006.2 L1823.0 1006.2 L1825.4 1006.3 L1827.8 1006.3 L1830.2 1006.3 L1832.6 1006.4 L1835.0 1006.4 L1837.5 1006.5 L1839.9 1006.5 L1842.3 1006.5 L1844.7 1006.6 L1847.1 1006.6 L1849.5 1006.7 L1852.0 1006.7 L1854.4 1006.7 L1856.8 1006.8 L1859.2 1006.8 L1861.6 1006.8 L1864.0 1006.9 L1866.5 1006.9 L1868.9 1006.9 L1871.3 1006.9 L1873.7 1007.0 L1876.1 1007.0 L1878.5 1007.0 L1880.9 1007.0 L1883.4 1007.1 L1885.8 1007.1 L1888.2 1007.1 L1890.6 1007.1 L1893.0 1007.2 L1895.4 1007.2 L1897.9 1007.2 L1900.3 1007.2 L1902.7 1007.3 L1905.1 1007.3 L1907.5 1007.3 L1909.9 1007.3 L1912.4 1007.3 L1914.8 1007.4 L1917.2 1007.4 L1919.6 1007.4 L1922.0 1007.4 L1924.4 1007.4 L1926.9 1007.4 L1929.3 1007.5 L1931.7 1007.5 L1934.1 1007.5 L1936.5 1007.5 L1938.9 1007.5 L1941.4 1007.5 L1943.8 1007.5 L1946.2 1007.5 L1948.6 1007.6"/>
<rect class="halo" x="1153.7" y="270.8" width="30" height="29.4"/>
<rect class="mk" x="1156.95" y="273.85" width="23.5" height="23.2"/>
<rect class="halo" x="1153.7" y="849.0" width="30" height="29.4"/>
<rect class="mk" x="1156.95" y="852.10" width="23.5" height="23.2"/>
<text id="t-ym100" y="55.0" font-size="58.8"><tspan x="115.40" textLength="86.79" lengthAdjust="spacingAndGlyphs">100</tspan></text>
<text id="t-ym50" y="181.0" font-size="58.8"><tspan x="140.20" textLength="59.55" lengthAdjust="spacingAndGlyphs">50</tspan></text>
<text id="t-ym0" y="306.4" font-size="58.8"><tspan x="169.30" textLength="28.79" lengthAdjust="spacingAndGlyphs">0</tspan></text>
<text id="t-ymm50" y="431.7" font-size="58.8"><tspan x="125.35" textLength="74.61" lengthAdjust="spacingAndGlyphs">-50</tspan></text>
<text id="t-ymm100" y="556.9" font-size="58.8"><tspan x="97.25" textLength="104.70" lengthAdjust="spacingAndGlyphs">-100</tspan></text>
<text id="t-yp0" y="594.3" font-size="58.8"><tspan x="169.30" textLength="28.79" lengthAdjust="spacingAndGlyphs">0</tspan></text>
<text id="t-yp45" y="704.1" font-size="58.8"><tspan x="125.35" textLength="74.61" lengthAdjust="spacingAndGlyphs">-45</tspan></text>
<text id="t-yp90" y="813.4" font-size="58.8"><tspan x="125.35" textLength="74.61" lengthAdjust="spacingAndGlyphs">-90</tspan></text>
<text id="t-yp135" y="920.3" font-size="58.8"><tspan x="97.25" textLength="104.12" lengthAdjust="spacingAndGlyphs">-135</tspan></text>
<text id="t-yp180" y="1029.3" font-size="58.8"><tspan x="97.25" textLength="104.22" lengthAdjust="spacingAndGlyphs">-180</tspan></text>
<text id="t-x0" y="1104.0" font-size="58.8"><tspan x="175.50" textLength="58.60" lengthAdjust="spacingAndGlyphs">10</tspan><tspan x="232.30" y="1077.3" font-size="47.2" textLength="23.83" lengthAdjust="spacingAndGlyphs">0</tspan></text>
<text id="t-x1" y="1104.0" font-size="58.8"><tspan x="465.03" textLength="58.60" lengthAdjust="spacingAndGlyphs">10</tspan><tspan x="519.83" y="1077.3" font-size="47.2" textLength="23.93" lengthAdjust="spacingAndGlyphs">1</tspan></text>
<text id="t-x2" y="1104.0" font-size="58.8"><tspan x="755.57" textLength="58.60" lengthAdjust="spacingAndGlyphs">10</tspan><tspan x="811.37" y="1077.3" font-size="47.2" textLength="25.25" lengthAdjust="spacingAndGlyphs">2</tspan></text>
<text id="t-x3" y="1104.0" font-size="58.8"><tspan x="1045.10" textLength="58.60" lengthAdjust="spacingAndGlyphs">10</tspan><tspan x="1100.90" y="1077.3" font-size="47.2" textLength="22.81" lengthAdjust="spacingAndGlyphs">3</tspan></text>
<text id="t-x4" y="1104.0" font-size="58.8"><tspan x="1334.63" textLength="59.74" lengthAdjust="spacingAndGlyphs">10</tspan><tspan x="1392.43" y="1077.3" font-size="47.2" textLength="22.31" lengthAdjust="spacingAndGlyphs">4</tspan></text>
<text id="t-x5" y="1104.0" font-size="58.8"><tspan x="1625.17" textLength="58.60" lengthAdjust="spacingAndGlyphs">10</tspan><tspan x="1680.97" y="1077.3" font-size="47.2" textLength="22.98" lengthAdjust="spacingAndGlyphs">5</tspan></text>
<text id="t-x6" y="1104.0" font-size="58.8"><tspan x="1914.70" textLength="58.60" lengthAdjust="spacingAndGlyphs">10</tspan><tspan x="1971.50" y="1077.3" font-size="47.2" textLength="23.88" lengthAdjust="spacingAndGlyphs">6</tspan></text>
<text id="t-xl" y="1165.7" font-size="70.4"><tspan x="824.70" textLength="313.35" lengthAdjust="spacingAndGlyphs">Frequency</tspan> <tspan x="1158.40" textLength="132.93" lengthAdjust="spacingAndGlyphs">(Hz)</tspan></text>
<text id="t-ylm" transform="translate(58.2 0) rotate(-90)" font-size="61.0"><tspan x="-476.20" textLength="268.30" lengthAdjust="spacingAndGlyphs">Magnitude</tspan> <tspan x="-190.50" textLength="106.85" lengthAdjust="spacingAndGlyphs">(dB)</tspan></text>
<text id="t-ylp" transform="translate(58.2 0) rotate(-90)" font-size="61.0"><tspan x="-926.00" textLength="146.02" lengthAdjust="spacingAndGlyphs">Phase</tspan> <tspan x="-763.90" textLength="130.01" lengthAdjust="spacingAndGlyphs">(deg)</tspan></text>
<text id="t-d1a" y="211.0" font-size="49.4"><tspan x="1197.80" textLength="225.42" lengthAdjust="spacingAndGlyphs">Frequency</tspan> <tspan x="1438.80" textLength="109.34" lengthAdjust="spacingAndGlyphs">(Hz):</tspan> <tspan x="1558.10" textLength="183.56" lengthAdjust="spacingAndGlyphs">2.05e+03</tspan></text>
<text id="t-d1b" y="264.0" font-size="49.4"><tspan x="1196.10" textLength="238.46" lengthAdjust="spacingAndGlyphs">Magnitude</tspan> <tspan x="1448.90" textLength="103.02" lengthAdjust="spacingAndGlyphs">(dB):</tspan> <tspan x="1562.30" textLength="126.52" lengthAdjust="spacingAndGlyphs">-0.234</tspan></text>
<text id="t-d2a" y="787.9" font-size="49.4"><tspan x="1151.00" textLength="226.42" lengthAdjust="spacingAndGlyphs">Frequency</tspan> <tspan x="1392.30" textLength="110.28" lengthAdjust="spacingAndGlyphs">(Hz):</tspan> <tspan x="1511.60" textLength="183.56" lengthAdjust="spacingAndGlyphs">2.05e+03</tspan></text>
<text id="t-d2b" y="833.7" font-size="49.4"><tspan x="1152.80" textLength="127.55" lengthAdjust="spacingAndGlyphs">Phase</tspan> <tspan x="1293.10" textLength="124.76" lengthAdjust="spacingAndGlyphs">(deg):</tspan> <tspan x="1428.60" textLength="90.52" lengthAdjust="spacingAndGlyphs">-120</tspan></text>
</svg>
</body>
</html>
